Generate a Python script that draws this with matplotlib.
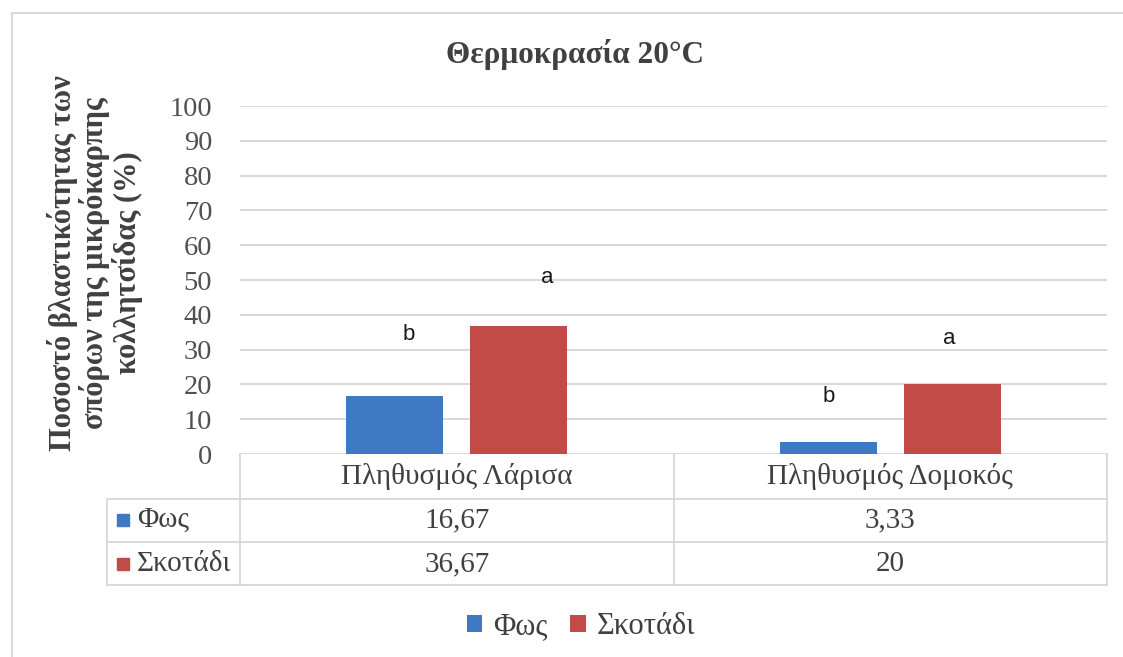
import matplotlib
matplotlib.use("Agg")
import matplotlib.pyplot as plt
import numpy as np
from matplotlib.transforms import blended_transform_factory

# ---- data ----
title = "Θερμοκρασία 20°C"
categories = ["Πληθυσμός Λάρισα", "Πληθυσμός Δομοκός"]
series_names = ["Φως", "Σκοτάδι"]
light = [16.67, 3.33]
dark = [36.67, 20]
light_letters = ["b", "b"]
dark_letters = ["a", "a"]
y_ticks = list(range(0, 101, 10))
y_label = "Ποσοστό βλαστικότητας των\nσπόρων της μικρόκαρπης\nκολλητσίδας (%)"

# ---- style ----
W, H = 1123, 657
DPI = 100
BLUE = "#3F78C3"
RED = "#C24B48"
GRID = "#D9D9D9"
TABLE = "#D4D4D4"
TXT = "#404040"
SERIF = ["Liberation Serif", "DejaVu Serif"]
SANS = ["Liberation Sans", "DejaVu Sans"]

plt.rcParams["font.family"] = SERIF

fig = plt.figure(figsize=(W / DPI, H / DPI), dpi=DPI)
fig.patch.set_facecolor("white")

# overlay in pixel coordinates for the frame and table rules
ov = fig.add_axes([0, 0, 1, 1])
ov.set_xlim(0, W)
ov.set_ylim(H, 0)
ov.axis("off")

# chart frame (top and left edges)
ov.plot([12, W], [13, 13], color="#D9D9D9", lw=1.5)
ov.plot([12, 12], [13, H], color="#D9D9D9", lw=1.5)

# plot area
y0_px, y100_px = 454, 106
x_left, x_right = 240, 1107
ax = fig.add_axes([x_left / W, 1 - y0_px / H, (x_right - x_left) / W,
                   (y0_px - y100_px) / H])
ax.set_xlim(-0.5, len(categories) - 0.5)
ax.set_ylim(0, 100)
ax.set_yticks(y_ticks)
ax.set_xticks([])
for s in ax.spines.values():
    s.set_visible(False)
ax.grid(axis="y", color=GRID, lw=1.4)
ax.set_axisbelow(True)
ax.tick_params(axis="y", length=0, pad=20, labelsize=20.5, labelcolor="#505050")
ax.patch.set_alpha(0)

x = np.arange(len(categories))
bar_w = 0.224
off = 0.143
b1 = ax.bar(x - off, light, bar_w, color=BLUE, label=series_names[0], zorder=3)
b2 = ax.bar(x + off, dark, bar_w, color=RED, label=series_names[1], zorder=3)

# significance letters (hand-placed text boxes)
light_pos = [(-0.110, 34.2), (-0.142, 16.4)]
dark_pos = [(0.209, 50.6), (0.135, 33.3)]
for i in range(len(categories)):
    dx, dy = light_pos[i]
    ax.text(i + dx, dy, light_letters[i], ha="center", va="center",
            fontsize=16, family=SANS, color="#1a1a1a")
    dx, dy = dark_pos[i]
    ax.text(i + dx, dy, dark_letters[i], ha="center", va="center",
            fontsize=16, family=SANS, color="#1a1a1a")

# title
fig.text(575 / W, 1 - 55 / H, title, ha="center", va="center",
         fontsize=22.5, fontweight="bold", color=TXT)

# y axis title
fig.text(95 / W, 1 - 263 / H, y_label, rotation=90, ha="center", va="center",
         fontsize=22, fontweight="bold", color=TXT, linespacing=1.08,
         multialignment="center")

# ---- data table ----
tr = blended_transform_factory(ax.transData, ov.transData)
bounds = np.arange(len(categories) + 1) - 0.5
row_lines = [499, 542, 585]
legend_left = 107
for yl in row_lines:
    ov.plot([legend_left, x_right], [yl, yl], color=TABLE, lw=1.2)
ov.plot([legend_left, legend_left], [row_lines[0], row_lines[-1]],
        color=TABLE, lw=1.2)
for b in bounds:
    ov.plot([b, b], [y0_px, row_lines[-1]], color=TABLE, lw=1.2,
            transform=tr, clip_on=False)

row_y = [476, 520, 564]
for i, cat in enumerate(categories):
    ov.text(i, row_y[0], cat, transform=tr, ha="center", va="center",
            fontsize=21, color=TXT)
    ov.text(i, row_y[1], f"{light[i]:g}".replace(".", ","), transform=tr,
            ha="center", va="center", fontsize=21, color=TXT)
    ov.text(i, row_y[2], f"{dark[i]:g}".replace(".", ","), transform=tr,
            ha="center", va="center", fontsize=21, color=TXT)

for name, col, yc in zip(series_names, [BLUE, RED], row_y[1:]):
    ov.add_patch(plt.Rectangle((117, yc - 6), 12, 12, color=col))
    ov.text(137, yc, name, ha="left", va="center", fontsize=21, color=TXT)

# legend
fig.legend(handles=[b1, b2], loc="center", ncol=2, frameon=False,
           bbox_to_anchor=(581 / W, 1 - 627 / H), fontsize=22,
           handlelength=0.5, handleheight=0.5, handletextpad=0.35,
           columnspacing=0.75, labelcolor=TXT)

fig.savefig("out.png", dpi=DPI, facecolor="white")
